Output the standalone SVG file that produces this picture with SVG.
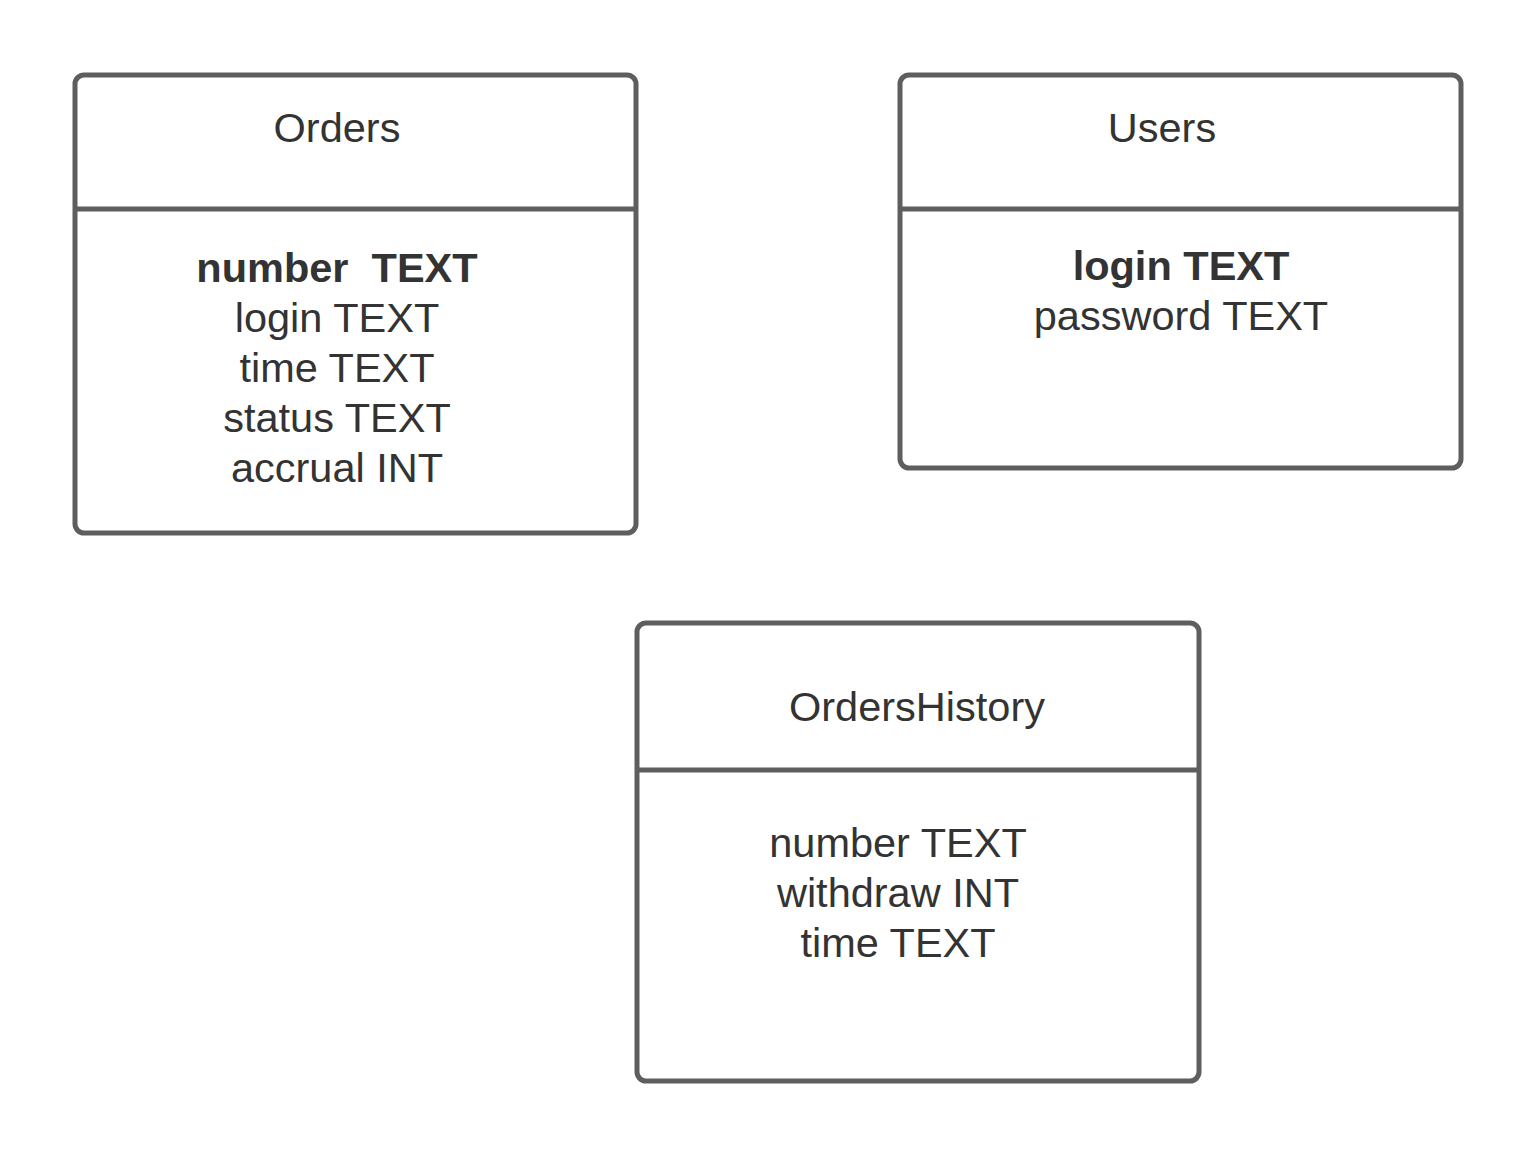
<svg xmlns="http://www.w3.org/2000/svg" width="1538" height="1157" viewBox="0 0 1538 1157">
<style>
.box{fill:#ffffff;stroke:#5e5e5e;stroke-width:5}
.div{stroke:#5e5e5e;stroke-width:5}
.t{font-family:"Liberation Sans",Arial,sans-serif;font-size:41.5px;fill:#333333;text-anchor:middle;white-space:pre}
.b{font-weight:bold}
</style>
<rect width="1538" height="1157" fill="#ffffff"/>
<g id="orders">
<rect class="box" x="75" y="75" width="561" height="458" rx="9"/>
<line class="div" x1="75" y1="209" x2="636" y2="209"/>
<text class="t" x="337" y="142">Orders</text>
<text class="t b" x="337" y="282" xml:space="preserve">number  TEXT</text>
<text class="t" x="337" y="332">login TEXT</text>
<text class="t" x="337" y="382">time TEXT</text>
<text class="t" x="337" y="432">status TEXT</text>
<text class="t" x="337" y="482">accrual INT</text>
</g>
<g id="users">
<rect class="box" x="900" y="75" width="561" height="393" rx="9"/>
<line class="div" x1="900" y1="209" x2="1461" y2="209"/>
<text class="t" x="1162" y="142">Users</text>
<text class="t b" x="1181" y="280">login TEXT</text>
<text class="t" x="1181" y="330">password TEXT</text>
</g>
<g id="ordershistory">
<rect class="box" x="637" y="623" width="562" height="458" rx="9"/>
<line class="div" x1="637" y1="770" x2="1199" y2="770"/>
<text class="t" x="917" y="721">OrdersHistory</text>
<text class="t" x="898" y="857">number TEXT</text>
<text class="t" x="898" y="907">withdraw INT</text>
<text class="t" x="898" y="957">time TEXT</text>
</g>
<g id="connectors"></g>
</svg>
